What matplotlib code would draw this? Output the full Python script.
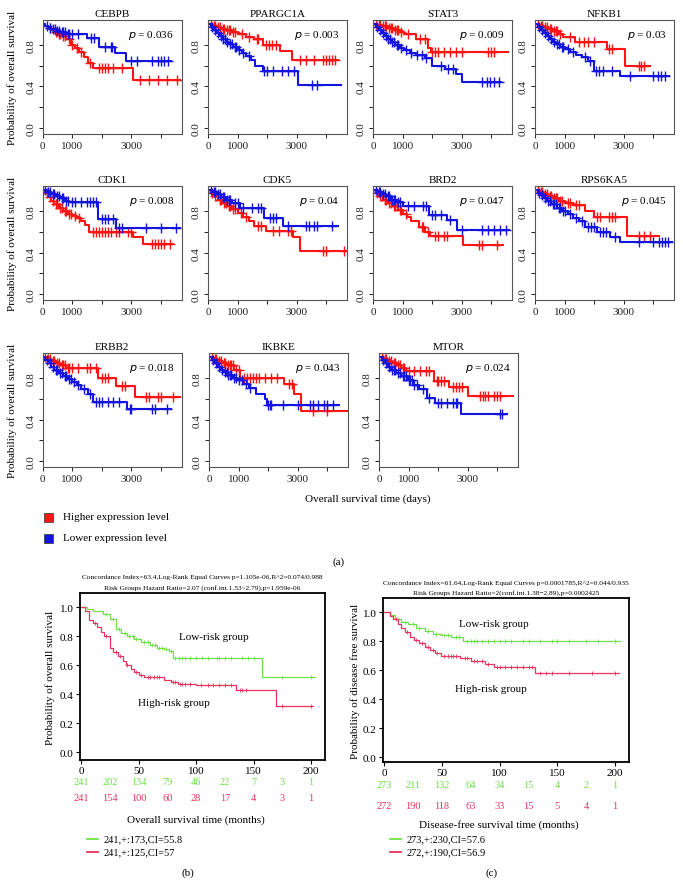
import numpy as np
import matplotlib.pyplot as plt
from matplotlib.transforms import blended_transform_factory

plt.rcParams['font.family'] = ['Liberation Serif', 'DejaVu Serif']

# ---- (a) gene KM curves: step times (days), survival, censor times ----
genes = ['CEBPB', 'PPARGC1A', 'STAT3', 'NFKB1', 'CDK1', 'CDK5', 'BRD2',
         'RPS6KA5', 'ERBB2', 'IKBKE', 'MTOR']
pvals = ['0.036', '0.003', '0.009', '0.03', '0.008', '0.04', '0.047',
         '0.045', '0.018', '0.043', '0.024']

CEBPB_hi_t = [0, 100, 200, 300, 400, 500, 650, 800, 950, 1100, 1250, 1400, 1550, 1700, 3070, 4650]
CEBPB_hi_s = [1.0, 0.98, 0.96, 0.94, 0.92, 0.9, 0.88, 0.85, 0.8, 0.77, 0.73, 0.68, 0.62, 0.58, 0.46, 0.46]
CEBPB_hi_c = [250, 450, 550, 600, 700, 750, 900, 1000, 1150, 1300, 1600, 1900, 2000, 2100, 2200, 2400, 2700, 3300, 3600, 3900, 4200, 4550]
CEBPB_lo_t = [0, 100, 200, 300, 450, 600, 800, 1500, 1900, 2450, 2840, 4360]
CEBPB_lo_s = [1.0, 0.98, 0.96, 0.95, 0.93, 0.92, 0.905, 0.86, 0.78, 0.72, 0.64, 0.64]
CEBPB_lo_c = [150, 250, 350, 420, 500, 550, 650, 700, 750, 850, 900, 1000, 1200, 1650, 1750, 2100, 2300, 2350, 3000, 3200, 3700, 3900, 4000, 4100, 4250]

PPARGC1A_hi_t = [0, 150, 300, 450, 600, 800, 1000, 1300, 1550, 1850, 2450, 2850, 4400]
PPARGC1A_hi_s = [1.0, 0.98, 0.97, 0.95, 0.94, 0.92, 0.9, 0.87, 0.85, 0.8, 0.74, 0.65, 0.65]
PPARGC1A_hi_c = [100, 200, 250, 350, 400, 500, 550, 650, 700, 750, 850, 900, 1150, 1400, 1650, 1700, 1950, 2050, 2150, 2300, 3100, 3300, 3600, 3900, 4000, 4100, 4200, 4300]
PPARGC1A_lo_t = [0, 100, 200, 300, 400, 500, 600, 700, 850, 1000, 1150, 1300, 1450, 1600, 1850, 3030, 4500]
PPARGC1A_lo_s = [1.0, 0.97, 0.94, 0.91, 0.88, 0.85, 0.83, 0.81, 0.78, 0.75, 0.72, 0.69, 0.65, 0.6, 0.55, 0.41, 0.41]
PPARGC1A_lo_c = [150, 250, 350, 450, 520, 580, 650, 750, 800, 900, 950, 1050, 1200, 1400, 1900, 2000, 2200, 2500, 2700, 2900, 3500, 3700]

STAT3_hi_t = [0, 150, 300, 500, 700, 900, 1050, 1450, 1850, 1950, 4560]
STAT3_hi_s = [1.0, 0.99, 0.98, 0.96, 0.94, 0.92, 0.9, 0.85, 0.77, 0.73, 0.73]
STAT3_hi_c = [100, 200, 250, 350, 400, 450, 550, 600, 650, 750, 800, 850, 950, 1200, 1600, 1750, 2000, 2100, 2200, 2400, 2600, 2800, 3000, 3900, 4000, 4100]
STAT3_lo_t = [0, 100, 200, 300, 400, 500, 600, 750, 900, 1050, 1250, 1450, 1750, 2000, 2450, 2800, 3020, 4330]
STAT3_lo_s = [1.0, 0.97, 0.94, 0.91, 0.88, 0.85, 0.83, 0.8, 0.77, 0.75, 0.72, 0.7, 0.67, 0.6, 0.57, 0.52, 0.44, 0.44]
STAT3_lo_c = [150, 250, 350, 450, 520, 580, 650, 700, 800, 850, 950, 1100, 1300, 1500, 1650, 1800, 2300, 2550, 2700, 3700, 3850, 3950, 4100, 4250]

NFKB1_hi_t = [0, 150, 300, 450, 600, 800, 950, 1350, 2450, 3050, 3900]
NFKB1_hi_s = [1.0, 0.98, 0.97, 0.95, 0.93, 0.9, 0.87, 0.83, 0.76, 0.6, 0.6]
NFKB1_hi_c = [100, 200, 250, 350, 400, 500, 550, 650, 700, 750, 850, 1200, 1500, 1650, 1800, 2000, 2500, 2600, 3500, 3600, 3700]
NFKB1_lo_t = [0, 100, 200, 300, 400, 500, 600, 700, 850, 1000, 1200, 1400, 1600, 1800, 1980, 2880, 4520]
NFKB1_lo_s = [1.0, 0.97, 0.94, 0.91, 0.88, 0.85, 0.83, 0.81, 0.78, 0.76, 0.73, 0.7, 0.68, 0.64, 0.55, 0.5, 0.5]
NFKB1_lo_c = [150, 250, 350, 450, 550, 650, 750, 800, 900, 950, 1100, 1300, 1700, 1850, 2050, 2150, 2300, 2600, 3200, 4000, 4150, 4250, 4400]

CDK1_hi_t = [0, 100, 200, 300, 400, 550, 700, 850, 1000, 1150, 1300, 1450, 1560, 3070, 3400, 4420]
CDK1_hi_s = [1.0, 0.97, 0.93, 0.9, 0.87, 0.83, 0.8, 0.77, 0.75, 0.73, 0.7, 0.67, 0.6, 0.55, 0.48, 0.48]
CDK1_hi_c = [150, 250, 350, 450, 500, 600, 650, 750, 800, 900, 950, 1100, 1250, 1700, 1800, 1900, 2000, 2100, 2200, 2300, 2500, 2600, 2900, 3000, 3700, 3800, 3900, 4000, 4100, 4300]
CDK1_lo_t = [0, 150, 300, 450, 600, 750, 900, 1880, 2500, 4650]
CDK1_lo_s = [1.0, 0.98, 0.96, 0.94, 0.92, 0.9, 0.89, 0.72, 0.635, 0.635]
CDK1_lo_c = [100, 200, 250, 350, 400, 500, 550, 650, 700, 800, 850, 1000, 1100, 1300, 1500, 1600, 1700, 1800, 2000, 2100, 2200, 2400, 2600, 2700, 3500, 4000, 4500]

CDK5_hi_t = [0, 100, 200, 350, 500, 620, 800, 1000, 1200, 1400, 1550, 1970, 2870, 3100, 4670]
CDK5_hi_s = [1.0, 0.97, 0.94, 0.91, 0.88, 0.85, 0.82, 0.78, 0.74, 0.7, 0.66, 0.61, 0.55, 0.42, 0.42]
CDK5_hi_c = [150, 250, 300, 400, 450, 550, 600, 700, 750, 850, 900, 1100, 1300, 1700, 1800, 2200, 2400, 2700, 2800, 3900, 4000, 4600]
CDK5_lo_t = [0, 150, 300, 450, 600, 800, 1070, 1910, 2530, 4390]
CDK5_lo_s = [1.0, 0.98, 0.96, 0.93, 0.91, 0.88, 0.83, 0.73, 0.66, 0.66]
CDK5_lo_c = [100, 200, 250, 350, 400, 500, 550, 650, 700, 750, 900, 1000, 1200, 1500, 1700, 1800, 2100, 2200, 2300, 2700, 3300, 3400, 3600, 3700, 4200]

BRD2_hi_t = [0, 100, 200, 350, 500, 670, 850, 1000, 1150, 1300, 1550, 1750, 1940, 3060, 4390]
BRD2_hi_s = [1.0, 0.97, 0.94, 0.91, 0.88, 0.85, 0.81, 0.77, 0.74, 0.7, 0.65, 0.6, 0.56, 0.47, 0.47]
BRD2_hi_c = [150, 250, 300, 400, 450, 550, 600, 700, 750, 800, 900, 950, 1100, 1650, 1700, 1850, 2100, 2200, 2400, 2500, 3600, 3700, 4200]
BRD2_lo_t = [0, 150, 300, 450, 600, 800, 1000, 1890, 2500, 2830, 4610]
BRD2_lo_s = [1.0, 0.98, 0.96, 0.94, 0.91, 0.89, 0.85, 0.76, 0.715, 0.62, 0.62]
BRD2_lo_c = [100, 200, 250, 350, 400, 500, 550, 650, 700, 750, 850, 900, 1200, 1400, 1700, 1800, 2000, 2100, 2300, 2600, 3000, 3700, 3900, 4100, 4300, 4500]

RPS6KA5_hi_t = [0, 150, 300, 450, 600, 800, 1000, 1300, 1700, 1980, 3110, 4180]
RPS6KA5_hi_s = [1.0, 0.98, 0.96, 0.94, 0.92, 0.9, 0.88, 0.86, 0.8, 0.74, 0.56, 0.56]
RPS6KA5_hi_c = [100, 200, 250, 350, 400, 500, 550, 650, 700, 750, 850, 900, 1100, 1200, 1400, 1500, 2100, 2200, 2500, 2600, 2700, 3500, 3700, 3900]
RPS6KA5_lo_t = [0, 100, 200, 300, 400, 550, 730, 900, 1100, 1300, 1500, 1700, 2090, 2540, 2880, 4630]
RPS6KA5_lo_s = [1.0, 0.97, 0.95, 0.92, 0.9, 0.87, 0.83, 0.8, 0.77, 0.73, 0.7, 0.65, 0.6, 0.55, 0.5, 0.5]
RPS6KA5_lo_c = [150, 250, 350, 450, 500, 600, 650, 700, 800, 850, 950, 1000, 1200, 1400, 1600, 1800, 1900, 2000, 2200, 2300, 2400, 2700, 3500, 4000, 4200, 4300, 4400, 4500]

ERBB2_hi_t = [0, 150, 300, 450, 600, 800, 1880, 2500, 3120, 4640]
ERBB2_hi_s = [1.0, 0.98, 0.96, 0.94, 0.92, 0.9, 0.8, 0.72, 0.62, 0.62]
ERBB2_hi_c = [100, 200, 250, 350, 400, 500, 550, 650, 700, 750, 850, 900, 1000, 1200, 1500, 1600, 1800, 2000, 2100, 2200, 2700, 2800, 3500, 3600, 3900, 4000, 4400]
ERBB2_lo_t = [0, 100, 200, 300, 400, 550, 700, 850, 1000, 1150, 1300, 1540, 1710, 2860, 4360]
ERBB2_lo_s = [1.0, 0.97, 0.94, 0.91, 0.88, 0.85, 0.82, 0.79, 0.76, 0.73, 0.69, 0.65, 0.57, 0.5, 0.5]
ERBB2_lo_c = [150, 250, 350, 450, 500, 600, 650, 750, 800, 900, 950, 1050, 1200, 1400, 1600, 1800, 1900, 2000, 2200, 2400, 2600, 2950, 3000, 3700, 3800, 4200]

IKBKE_hi_t = [0, 150, 300, 450, 600, 845, 1050, 2530, 2870, 3100, 4670]
IKBKE_hi_s = [1.0, 0.98, 0.96, 0.94, 0.92, 0.88, 0.8, 0.74, 0.65, 0.48, 0.48]
IKBKE_hi_c = [100, 200, 250, 350, 400, 500, 550, 650, 700, 750, 800, 900, 1000, 1200, 1300, 1400, 1500, 1600, 1700, 1900, 2100, 2300, 2700, 2800, 3500, 4000]
IKBKE_lo_t = [0, 100, 200, 300, 400, 500, 620, 800, 960, 1150, 1350, 1600, 1910, 1970, 4390]
IKBKE_lo_s = [1.0, 0.97, 0.94, 0.91, 0.88, 0.86, 0.83, 0.8, 0.78, 0.74, 0.7, 0.65, 0.6, 0.54, 0.54]
IKBKE_lo_c = [150, 250, 350, 450, 550, 600, 650, 700, 750, 850, 900, 1000, 1100, 1250, 1400, 2000, 2050, 2100, 2500, 3000, 3400, 3500, 3700, 3900, 4000, 4200]

MTOR_hi_t = [0, 150, 300, 450, 600, 750, 910, 1860, 2360, 3020, 4520]
MTOR_hi_s = [1.0, 0.98, 0.96, 0.94, 0.92, 0.9, 0.87, 0.77, 0.71, 0.63, 0.63]
MTOR_hi_c = [100, 200, 250, 350, 400, 500, 550, 650, 700, 800, 850, 1000, 1200, 1400, 1600, 1700, 1950, 2000, 2100, 2200, 2500, 2600, 2700, 2800, 3400, 3500, 3600, 3700, 3900, 4000, 4100]
MTOR_lo_t = [0, 100, 200, 300, 400, 580, 750, 970, 1150, 1360, 1630, 1910, 2780, 4320]
MTOR_lo_s = [1.0, 0.97, 0.94, 0.91, 0.88, 0.85, 0.82, 0.78, 0.73, 0.69, 0.61, 0.56, 0.45, 0.45]
MTOR_lo_c = [150, 250, 350, 450, 500, 550, 650, 700, 800, 850, 900, 1000, 1050, 1100, 1200, 1300, 1500, 1700, 2000, 2100, 2300, 2500, 2600, 2650, 4100, 4150]

# ---- (b) overall survival, risk groups (months) ----
b_low_t = [0, 5, 10, 19, 25, 30, 35, 40, 46, 52, 60, 66, 72, 76, 80, 157, 203]
b_low_s = [1.0, 0.99, 0.97, 0.95, 0.92, 0.85, 0.82, 0.8, 0.78, 0.76, 0.74, 0.72, 0.71, 0.7, 0.65, 0.52, 0.52]
b_low_c = [22, 28, 33, 38, 42, 45, 48, 55, 58, 62, 64, 68, 70, 74, 78, 82, 85, 88, 90, 95, 100, 105, 110, 118, 120, 125, 130, 140, 145, 150, 175, 200]
b_high_t = [0, 3, 7, 10, 14, 17, 20, 25, 28, 32, 36, 39, 43, 46, 50, 55, 72, 78, 84, 100, 135, 169, 202]
b_high_s = [1.0, 0.97, 0.91, 0.89, 0.86, 0.83, 0.8, 0.72, 0.69, 0.66, 0.63, 0.6, 0.57, 0.55, 0.53, 0.52, 0.5, 0.48, 0.47, 0.46, 0.43, 0.32, 0.32]
b_high_c = [12, 22, 30, 34, 40, 48, 52, 58, 60, 63, 66, 68, 80, 82, 86, 88, 90, 95, 104, 110, 115, 120, 125, 130, 138, 140, 143, 175, 200]
b_risk_times = [0, 25, 50, 75, 100, 125, 150, 175, 200]
b_low_risk = [241, 202, 134, 79, 46, 22, 7, 3, 1]
b_high_risk = [241, 154, 100, 60, 28, 17, 4, 3, 1]

# ---- (c) disease-free survival, risk groups (months) ----
c_low_t = [0, 5, 9, 15, 21, 28, 35, 42, 49, 58, 68, 204]
c_low_s = [1.0, 0.98, 0.95, 0.93, 0.92, 0.89, 0.87, 0.85, 0.84, 0.83, 0.8, 0.8]
c_low_c = [12, 18, 25, 30, 38, 45, 52, 55, 62, 65, 72, 75, 78, 80, 85, 90, 95, 100, 105, 110, 120, 125, 135, 145, 150, 160, 175, 185, 200]
c_high_t = [0, 5, 8, 12, 15, 18, 22, 26, 30, 35, 40, 44, 49, 66, 75, 87, 95, 131, 203]
c_high_s = [1.0, 0.97, 0.95, 0.92, 0.89, 0.86, 0.83, 0.81, 0.79, 0.76, 0.74, 0.72, 0.7, 0.68, 0.66, 0.64, 0.62, 0.58, 0.58]
c_high_c = [10, 20, 28, 33, 38, 42, 46, 52, 55, 58, 60, 62, 70, 72, 78, 80, 85, 90, 98, 100, 105, 110, 115, 120, 125, 128, 135, 140, 145, 160, 180, 200]
c_risk_times = [0, 25, 50, 75, 100, 125, 150, 175, 200]
c_low_risk = [273, 211, 132, 64, 34, 15, 4, 2, 1]
c_high_risk = [272, 190, 118, 63, 33, 15, 5, 4, 1]

RED, BLUE = '#FF1414', '#1414E0'
GREEN, PINK = '#6EE04A', '#E8345F'

W, H = 683, 895
fig = plt.figure(figsize=(W / 100, H / 100), dpi=100)


def add_box(l, t, w, h):
    return fig.add_axes([l / W, 1 - (t + h) / H, w / W, h / H])


def km(ax, t, s, cens, color, ms, mew, lw):
    ax.step(t, s, where='post', color=color, lw=lw)
    idx = np.searchsorted(t, cens, side='right') - 1
    ax.plot(cens, np.asarray(s)[idx], ls='none', marker='+', color=color,
            ms=ms, mew=mew)


def fig_text(x, y, s, **kw):
    fig.text(x / W, 1 - y / H, s, **kw)


g = globals()
col_left = [[42.5, 208, 373, 535], [42.5, 208, 373, 535], [42.5, 209, 379]]
row_top = [20.7, 187, 354]
for i, (gene, p) in enumerate(zip(genes, pvals)):
    r, c = divmod(i, 4)
    ax = add_box(col_left[r][c], row_top[r], 139, 114)
    km(ax, g[gene + '_hi_t'], g[gene + '_hi_s'], g[gene + '_hi_c'], RED, 7, 1.0, 1.5)
    km(ax, g[gene + '_lo_t'], g[gene + '_lo_s'], g[gene + '_lo_c'], BLUE, 7, 1.0, 1.5)
    ax.set_xlim(0, 4700)
    ax.set_ylim(-0.055, 1.04)
    ax.set_xticks([0, 1000, 2000, 3000, 4000])
    ax.set_xticklabels(['0', '1000', '', '3000', ''])
    ax.set_yticks([0, 0.2, 0.4, 0.6, 0.8])
    ax.set_yticklabels(['0.0', '', '0.4', '', '0.8'], rotation=90, va='center')
    ax.tick_params(labelsize=8, length=3, width=0.7, pad=2, colors='#222222')
    for sp in ax.spines.values():
        sp.set_color('#555555')
        sp.set_linewidth(0.8)
    ax.set_title(gene, fontsize=8, pad=3)
    ax.text(4450, 0.9, r'$p$ = ' + p, ha='right', va='center', fontsize=8)

for yc in [78, 244, 411]:
    fig_text(12, yc, 'Probability of overall survival', rotation=90,
             ha='center', va='center', fontsize=8)
fig_text(305, 499, 'Overall survival time (days)', ha='left', va='center', fontsize=8)
for yy, col, lab in [(518, RED, 'Higher expression level'),
                     (539, BLUE, 'Lower expression level')]:
    fig.patches.append(plt.Rectangle((44 / W, 1 - (yy + 4.5) / H), 9 / W, 9 / H,
                                     transform=fig.transFigure, fc=col, ec='#333333', lw=0.5))
    fig_text(63, yy, lab, ha='left', va='center', fontsize=8)
fig_text(339, 562, '(a)', ha='center', va='center', fontsize=8)


def risk_panel(l, t, w, h, ylim, low, high, low_risk, high_risk, risk_times,
               titles, ylabel, xlabel, ylab_x, ty, risk_y, xlab_y, leg, low_xy, high_xy):
    ax = add_box(l, t, w, h)
    km(ax, *low, GREEN, 3, 0.6, 0.9)
    km(ax, *high, PINK, 3, 0.6, 0.9)
    ax.set_xlim(-1, 212)
    ax.set_ylim(*ylim)
    ax.set_xticks([0, 50, 100, 150, 200])
    ax.set_yticks([0, 0.2, 0.4, 0.6, 0.8, 1.0])
    ax.set_yticklabels(['0.0', '0.2', '0.4', '0.6', '0.8', '1.0'])
    ax.tick_params(labelsize=8, length=3, width=0.8, pad=1.5)
    for sp in ax.spines.values():
        sp.set_linewidth(1.3)
    ax.text(low_xy[0], low_xy[1], 'Low-risk group', ha='center', va='center', fontsize=8)
    ax.text(high_xy[0], high_xy[1], 'High-risk group', ha='center', va='center', fontsize=8)
    cx = l + w / 2
    fig_text(cx, ty[0], titles[0], ha='center', va='center', fontsize=5.3)
    fig_text(cx, ty[1], titles[1], ha='center', va='center', fontsize=5.3)
    fig_text(ylab_x, t + h / 2, ylabel, rotation=90, ha='center', va='center', fontsize=8)
    tr = blended_transform_factory(ax.transData, fig.transFigure)
    for x, a, b in zip(risk_times, low_risk, high_risk):
        ax.text(x, 1 - risk_y[0] / H, str(a), transform=tr, ha='center', va='center',
                fontsize=7.5, color=GREEN)
        ax.text(x, 1 - risk_y[1] / H, str(b), transform=tr, ha='center', va='center',
                fontsize=7.5, color=PINK)
    fig_text(cx - 7, xlab_y, xlabel, ha='center', va='center', fontsize=8)
    for yy, col, lab in [(840, GREEN, leg[0]), (853, PINK, leg[1])]:
        fig.add_artist(plt.Line2D([(l + 7) / W, (l + 18) / W], [1 - yy / H, 1 - yy / H],
                                  color=col, lw=1.3))
        fig_text(l + 24, yy, lab, ha='left', va='center', fontsize=7.5)
    return ax


risk_panel(80, 594, 245, 167, (-0.055, 1.097),
           (b_low_t, b_low_s, b_low_c), (b_high_t, b_high_s, b_high_c),
           b_low_risk, b_high_risk, b_risk_times,
           ['Concordance Index=63.4,Log-Rank Equal Curves p=1.105e-06,R^2=0.074/0.988',
            'Risk Groups Hazard Ratio=2.07 (conf.int.1.53~2.79),p=1.959e-06'],
           'Probability of overall survival', 'Overall survival time (months)',
           50, (578, 588), (783, 799), 820,
           ['241,+:173,CI=55.8', '241,+:125,CI=57'], (115, 0.8), (81, 0.34))
fig_text(188, 873, '(b)', ha='center', va='center', fontsize=8)

risk_panel(383, 599, 246, 164, (-0.034, 1.097),
           (c_low_t, c_low_s, c_low_c), (c_high_t, c_high_s, c_high_c),
           c_low_risk, c_high_risk, c_risk_times,
           ['Concordance Index=61.64,Log-Rank Equal Curves p=0.0001785,R^2=0.044/0.935',
            'Risk Groups Hazard Ratio=2(conf.int.1.38\u22122.89),p=0.0002425'],
           'Probability of disease free survival', 'Disease-free survival time (months)',
           355, (584, 593), (786, 807), 825,
           ['273,+:230,CI=57.6', '272,+:190,CI=56.9'], (95, 0.92), (92, 0.47))
fig_text(492, 873, '(c)', ha='center', va='center', fontsize=8)

fig.savefig('out.png', dpi=100)
